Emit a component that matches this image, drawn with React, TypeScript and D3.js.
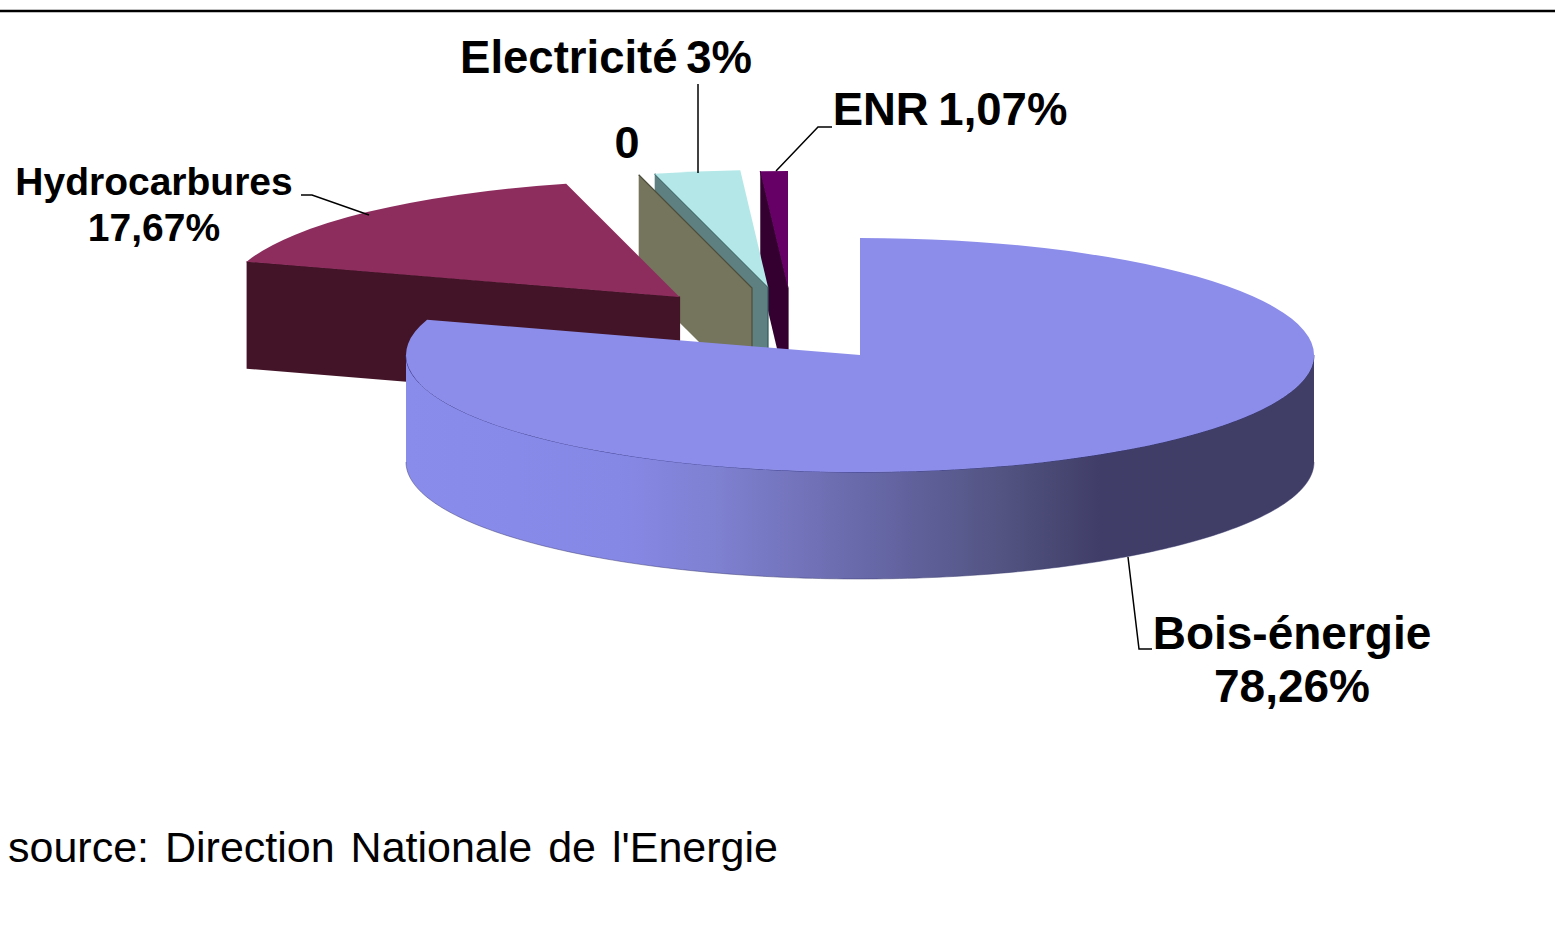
import React from 'react';
import * as d3 from 'd3';

// Energy mix, in the order the slices run clockwise from 12 o'clock
const categories = ['Bois-énergie', 'Hydrocarbures', 'Autre', 'Electricité', 'ENR'];
const shares = [78.26, 17.67, 0, 3, 1.07];

const topColors = ['#8c8dea', '#8c2d5e', '#75745c', '#b4e8e8', '#660066'];
const wallColors = ['#8c8dea', '#431427', '#75745c', '#5e8080', '#34002f'];
const edgeColors = ['#8c8dea', '#431427', '#4d4d3c', '#2f5a5c', '#34002f'];

// where each exploded slice has its tip
const tipX = [860, 679.5, 752, 768, 788];
const tipY = [355, 297, 288, 287, 288];

const width = 1555;
const height = 933;
const rx = 454;
const ry = 117;
const depth = 107;

// the 3D view stretches the angles a little
const viewAngle = d3.scaleLinear()
    .domain([0, 281.7, 345.3, 356.15, 360].map(d => d * Math.PI / 180))
    .range([0, 287.5, 345.5, 356.5, 360].map(d => d * Math.PI / 180));

const pieLayout = d3.pie<number>().sort(null).startAngle(0).endAngle(2 * Math.PI);
const slices = pieLayout(shares).map((d, i) => ({
    ...d,
    i,
    a0: viewAngle(d.startAngle),
    a1: viewAngle(d.endAngle),
}));

const arcPath = d3.arc<any>()
    .innerRadius(0)
    .outerRadius(rx)
    .startAngle(d => d.a0)
    .endAngle(d => d.a1);

const rimX = (i: number, a: number) => tipX[i] + rx * Math.sin(a);
const rimY = (i: number, a: number) => tipY[i] - ry * Math.cos(a);

// Side of the main slice, along the front of the ellipse
const frontAngles = d3.range(90, 270.5, 1).map(d => d * Math.PI / 180);
const frontArea = d3.area<number>()
    .x(a => rimX(0, a))
    .y0(a => rimY(0, a))
    .y1(a => rimY(0, a) + depth);
const frontLine = d3.line<number>()
    .x(a => rimX(0, a))
    .y(a => rimY(0, a));
const frontBottom = d3.line<number>()
    .x(a => rimX(0, a))
    .y(a => rimY(0, a) + depth);

const sideStops = [
    { x: 407, color: '#8a8cec' },
    { x: 620, color: '#8688e6' },
    { x: 720, color: '#7e80d0' },
    { x: 800, color: '#7273ba' },
    { x: 900, color: '#62639f' },
    { x: 1000, color: '#535482' },
    { x: 1100, color: '#403e68' },
    { x: 1315, color: '#403e66' },
];

// Leader lines, from label to slice
const leaders = [
    [[698, 84], [698, 173]],
    [[832, 127], [818, 127], [776, 171]],
    [[301, 195], [312, 195], [369, 215]],
    [[1128, 557], [1139, 649], [1152, 649]],
];
const leaderLine = d3.line();

const labels = [
    { text: 'Electricité 3%', x: 606, y: 73, size: 45.5, gap: -4 },
    { text: 'ENR 1,07%', x: 950, y: 125, size: 45.5, gap: -3 },
    { text: '0', x: 627, y: 158, size: 45, gap: 0 },
    { text: 'Hydrocarbures', x: 154, y: 195, size: 39, gap: 0 },
    { text: '17,67%', x: 154, y: 241, size: 39, gap: 0 },
    { text: 'Bois-énergie', x: 1292, y: 649, size: 46, gap: 0 },
    { text: '78,26%', x: 1292, y: 702, size: 46, gap: 0 },
];

export default function App() {
    const backToFront = [...slices].reverse();

    return (
        <svg
            width={width}
            height={height}
            viewBox={`0 0 ${width} ${height}`}
            style={{ position: 'absolute', left: 0, top: 0, background: '#fff' }}
            fontFamily="'Liberation Sans', Arial, sans-serif"
        >
            <defs>
                <linearGradient id="sideGrad" gradientUnits="userSpaceOnUse" x1={407} x2={1315} y1={0} y2={0}>
                    {sideStops.map(s => (
                        <stop key={s.x} offset={(s.x - 407) / (1315 - 407)} stopColor={s.color} />
                    ))}
                </linearGradient>
            </defs>

            <line x1={0} x2={width} y1={11} y2={11} stroke="#000" strokeWidth={2.5} />

            {backToFront.map(d => {
                const i = d.i;
                const mx = rimX(i, d.a0);
                const my = rimY(i, d.a0);
                const wall = [
                    [tipX[i], tipY[i]],
                    [mx, my],
                    [mx, my + depth],
                    [tipX[i], tipY[i] + depth],
                ] as [number, number][];
                const edge = [
                    [mx, my],
                    [tipX[i], tipY[i]],
                    [tipX[i], tipY[i] + depth],
                ] as [number, number][];
                return (
                    <g key={categories[i]}>
                        {i > 0 && (
                            <>
                                <path d={d3.line()(wall) + 'Z'} fill={wallColors[i]} />
                                <path d={d3.line()(edge) ?? ''} fill="none" stroke={edgeColors[i]} strokeWidth={1.2} />
                            </>
                        )}
                        {i === 0 && (
                            <>
                                <path d={frontArea(frontAngles) ?? ''} fill="url(#sideGrad)" />
                                <path d={frontBottom(frontAngles) ?? ''} fill="none" stroke="#3a3a70" strokeWidth={0.8} strokeOpacity={0.6} />
                                <path d={frontLine(frontAngles) ?? ''} fill="none" stroke="#34368c" strokeWidth={1} strokeOpacity={0.8} />
                            </>
                        )}
                        {d.value > 0 && (
                            <path
                                d={arcPath(d) ?? ''}
                                transform={`translate(${tipX[i]},${tipY[i]}) scale(1,${ry / rx})`}
                                fill={topColors[i]}
                            />
                        )}
                    </g>
                );
            })}

            {leaders.map((pts, i) => (
                <path
                    key={i}
                    d={leaderLine(pts as [number, number][]) ?? ''}
                    fill="none"
                    stroke="#000"
                    strokeWidth={1.5}
                />
            ))}

            {labels.map(l => (
                <text
                    key={l.text}
                    x={l.x}
                    y={l.y}
                    textAnchor="middle"
                    fontSize={l.size}
                    fontWeight="bold"
                    wordSpacing={l.gap}
                    fill="#000"
                >
                    {l.text}
                </text>
            ))}

            <text x={8} y={862} fontSize={43} fill="#000" wordSpacing={4}>
                source: Direction Nationale de l'Energie
            </text>
        </svg>
    );
}
